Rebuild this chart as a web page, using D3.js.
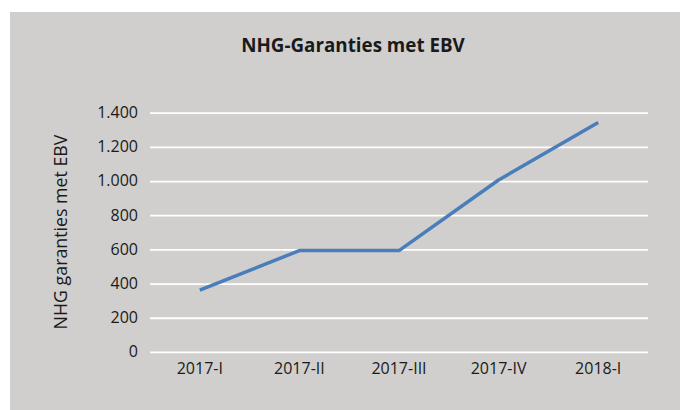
<!DOCTYPE html>
<html>
<head>
<meta charset="utf-8">
<script src="https://cdn.jsdelivr.net/npm/d3@7"></script>
<style>
  body{margin:0;background:#fff}
  svg text{font-family:"Open Sans","Noto Sans",sans-serif;fill:#1a1a1a}
</style>
</head>
<body>
<svg width="680" height="410"></svg>
<script>
// data
const kwartalen = ["2017-I","2017-II","2017-III","2017-IV","2018-I"]
const garanties = [362, 593, 593, 1006, 1343]
const yTicks = [0,200,400,600,800,1000,1200,1400]

const svg = d3.select("svg")
const nl = d3.formatLocale({decimal:",",thousands:".",grouping:[3],currency:["€",""]})

//panel
svg.append("rect").attr("x",10).attr("y",12).attr("width",670).attr("height",398).attr("fill","#d0cfcd")

let x = d3.scaleBand().domain(kwartalen).range([150,648])
let y = d3.scaleLinear().domain([0,1400]).range([351.9,112.7])

//gridlines + y labels
const yAxis = svg.append("g").attr("transform","translate(150,0)")
  .call(d3.axisLeft(y).tickValues(yTicks).tickSize(-498).tickPadding(12).tickFormat(nl.format(",d")))
yAxis.select(".domain").remove()
yAxis.selectAll(".tick line").attr("stroke","#fff").attr("stroke-width",1.8)
yAxis.selectAll(".tick text").style("font-size","16px").attr("dy","0.3em")

//x labels
const xAxis = svg.append("g").attr("transform","translate(0,351.9)")
  .call(d3.axisBottom(x).tickSize(0).tickPadding(11))
xAxis.select(".domain").remove()
xAxis.selectAll(".tick text").style("font-size","16px")

//line
const line = d3.line().x((d,i)=>x(kwartalen[i])+x.bandwidth()/2).y(d=>y(d))
svg.append("path").datum(garanties)
  .attr("d",line)
  .attr("fill","none")
  .attr("stroke","#4a7ebb")
  .attr("stroke-width",3.5)
  .attr("stroke-linejoin","round")

//titles
svg.append("text").attr("x",353).attr("y",52).attr("text-anchor","middle")
  .style("font-size","18.8px").attr("font-weight","bold").text("NHG-Garanties met EBV")
svg.append("text").attr("transform","translate(67,232) rotate(-90)").attr("text-anchor","middle")
  .style("font-size","17.8px").text("NHG garanties met EBV")
</script>
</body>
</html>
